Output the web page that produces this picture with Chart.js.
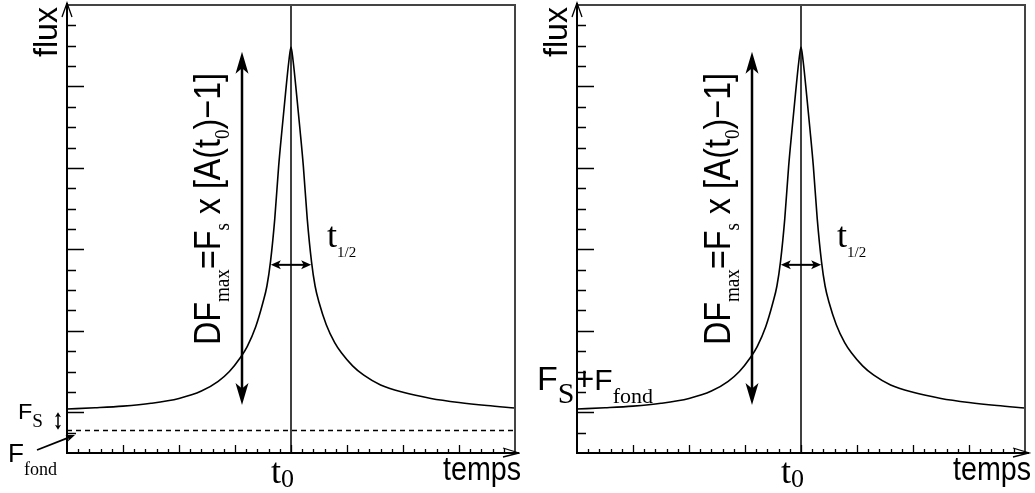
<!DOCTYPE html>
<html>
<head>
<meta charset="utf-8">
<script src="https://cdn.jsdelivr.net/npm/chart.js@4.4.1/dist/chart.umd.min.js"></script>
<style>
html, body { margin: 0; padding: 0; background: #fff; }
#wrap { position: relative; width: 1035px; height: 493px; overflow: hidden; }
canvas { position: absolute; top: 0; }
</style>
</head>
<body>
<div id="wrap">
    <canvas id="left-panel" width="520" height="493" style="left:0px"></canvas>
    <canvas id="right-panel" width="515" height="493" style="left:520px"></canvas>
</div>
<script>
// light curve (time in axis units, flux in axis units)
const timeValues = [0, 0.5, 1.0, 1.5, 2.0, 2.4, 2.7, 2.9, 3.1, 3.22, 3.37, 3.5, 3.57, 3.634, 3.71, 3.78,
    3.84, 3.9, 3.96, 4.0, 4.04, 4.1, 4.16, 4.22, 4.29, 4.366, 4.43, 4.5, 4.63, 4.78, 4.9, 5.1, 5.3,
    5.6, 6.0, 6.5, 7.0, 7.5, 8.0];
const fluxValues = [1.08, 1.11, 1.15, 1.22, 1.34, 1.52, 1.76, 2.0, 2.35, 2.62, 3.1, 3.7, 4.1, 4.7, 5.75, 7.05,
    7.95, 8.8, 9.6, 9.97, 9.6, 8.8, 7.95, 7.05, 5.75, 4.7, 4.1, 3.7, 3.15, 2.71, 2.46, 2.14, 1.91,
    1.67, 1.49, 1.34, 1.24, 1.165, 1.105];
const peakTime = 4.0;
const backgroundFlux = 0.55;
const timeRange = [0, 8];
const fluxRange = [0, 11];
const timeTickStep = 0.2;
const fluxTickStep = 0.5;

const SANS = '"Liberation Sans", Arial, sans-serif';
const SERIF = '"Liberation Serif", "Times New Roman", serif';

const curvePoints = timeValues.map((t, i) => ({ x: t, y: fluxValues[i] }));

// draw a run of text pieces [text, font, shift], optionally squeezed to a given length
function textRun(ctx, x, y, pieces, length, rotated) {
    ctx.save();
    ctx.translate(x, y);
    if (rotated) ctx.rotate(-Math.PI / 2);
    let total = 0;
    const widths = pieces.map(([text, font]) => {
        ctx.font = font;
        const w = ctx.measureText(text).width;
        total += w;
        return w;
    });
    if (length) ctx.scale(length / total, 1);
    ctx.fillStyle = "#000";
    ctx.textBaseline = "alphabetic";
    let u = 0;
    pieces.forEach(([text, font, shift], i) => {
        ctx.font = font;
        ctx.fillText(text, u, shift || 0);
        u += widths[i];
    });
    ctx.restore();
}

function arrowHead(ctx, x1, y1, x2, y2, len, width) {
    const a = Math.atan2(y2 - y1, x2 - x1);
    const c = Math.cos(a), s = Math.sin(a);
    ctx.beginPath();
    ctx.moveTo(x2, y2);
    ctx.lineTo(x2 - len * c + (width / 2) * s, y2 - len * s - (width / 2) * c);
    ctx.lineTo(x2 - len * 0.75 * c, y2 - len * 0.75 * s);
    ctx.lineTo(x2 - len * c - (width / 2) * s, y2 - len * s + (width / 2) * c);
    ctx.closePath();
    ctx.fill();
}

function arrow(ctx, x1, y1, x2, y2, len, width, lineWidth, both) {
    const a = Math.atan2(y2 - y1, x2 - x1);
    const c = Math.cos(a), s = Math.sin(a);
    ctx.lineWidth = lineWidth;
    ctx.beginPath();
    ctx.moveTo(both ? x1 + len * 0.7 * c : x1, both ? y1 + len * 0.7 * s : y1);
    ctx.lineTo(x2 - len * 0.7 * c, y2 - len * 0.7 * s);
    ctx.stroke();
    arrowHead(ctx, x1, y1, x2, y2, len, width);
    if (both) arrowHead(ctx, x2, y2, x1, y1, len, width);
}

function panelDecorations(showBackground) {
    return {
        id: "decorations",
        afterDraw(chart) {
            const { ctx, chartArea: ca, scales } = chart;
            const xs = scales.x, ys = scales.y;
            const L = ca.left, B = ca.bottom;
            ctx.save();
            ctx.strokeStyle = "#000";
            ctx.fillStyle = "#000";

            // frame
            ctx.lineWidth = 2;
            ctx.strokeStyle = "#444";
            ctx.beginPath();
            ctx.moveTo(L, ca.top); ctx.lineTo(ca.right, ca.top); ctx.lineTo(ca.right, B);
            ctx.stroke();
            ctx.strokeStyle = "#000";
            ctx.beginPath();
            ctx.moveTo(L, ca.top - 2); ctx.lineTo(L, B); ctx.lineTo(ca.right + 4, B);
            ctx.stroke();

            // axis arrows
            ctx.lineWidth = 1.3;
            ctx.beginPath();
            ctx.moveTo(L - 5, ca.top + 12); ctx.lineTo(L, ca.top - 2); ctx.lineTo(L + 5, ca.top + 12);
            ctx.moveTo(ca.right - 12, B - 5); ctx.lineTo(ca.right + 4, B); ctx.lineTo(ca.right - 12, B + 4);
            ctx.stroke();

            // ticks
            ctx.lineWidth = 1.3;
            ctx.beginPath();
            for (let v = fluxRange[0] + fluxTickStep; v < fluxRange[1] - 1e-6; v += fluxTickStep) {
                const py = Math.round(ys.getPixelForValue(v)) + 0.5;
                const odd = Math.abs(v - Math.round(v)) < 1e-6 && Math.round(v) % 2 === 1;
                ctx.moveTo(L, py); ctx.lineTo(L + (odd ? 17 : 9), py);
            }
            for (let t = timeRange[0] + timeTickStep; t < timeRange[1] - 1e-6; t += timeTickStep) {
                const px = Math.round(xs.getPixelForValue(t)) + 0.5;
                const major = Math.abs(t - Math.round(t)) < 1e-6;
                ctx.moveTo(px, B); ctx.lineTo(px, B - (major ? 8 : 4));
            }
            ctx.stroke();

            // DF arrow
            const dfx = xs.getPixelForValue(3.125);
            arrow(ctx, dfx, ys.getPixelForValue(1.18), dfx, ys.getPixelForValue(9.85), 22, 13, 2.5, true);
            // t1/2 arrow
            const hy = ys.getPixelForValue(4.62);
            arrow(ctx, xs.getPixelForValue(3.64), hy, xs.getPixelForValue(4.36), hy, 10, 9, 2, true);

            // labels
            textRun(ctx, L - 10, 57, [["flux", `34px ${SANS}`, 0]], 50, true);
            textRun(ctx, ca.right - 72, 480, [["temps", `34px ${SANS}`, 0]], 78);
            textRun(ctx, xs.getPixelForValue(peakTime) - 20, 483,
                [["t", `36px ${SERIF}`, 0], ["0", `26px ${SERIF}`, 4]]);
            textRun(ctx, xs.getPixelForValue(peakTime) + 36, 247,
                [["t", `36px ${SERIF}`, 0], ["1/2", `15px ${SERIF}`, 10]]);
            textRun(ctx, L + 153, 345, [
                ["DF", `37px ${SANS}`, 0], ["max", `22px ${SERIF}`, 9], ["=", `37px ${SANS}`, 0],
                ["F", `37px ${SANS}`, 0], ["s", `22px ${SERIF}`, 9], [" x ", `37px ${SANS}`, 0],
                ["[A(", `37px ${SANS}`, 0], ["t", `37px ${SANS}`, 0], ["0", `22px ${SERIF}`, 9],
                [")\u22121]", `37px ${SANS}`, 0],
            ], 272, true);

            if (showBackground) {
                const fy1 = ys.getPixelForValue(1.0), fy0 = ys.getPixelForValue(backgroundFlux + 0.02);
                arrow(ctx, L - 9, fy0, L - 9, fy1, 5, 6, 1.5, true);
                textRun(ctx, L - 49, 419, [["F", `22px ${SANS}`, 0], ["S", `18px ${SERIF}`, 8]], 25);
                textRun(ctx, L - 59, 462, [["F", `26px ${SANS}`, 0], ["fond", `18px ${SERIF}`, 13]], 49);
                arrow(ctx, L - 30, 450, L + 8, 435, 9, 7, 1.8, false);
            } else {
                textRun(ctx, L - 40, 390, [
                    ["F", `34px ${SANS}`, 0], ["S", `30px ${SERIF}`, 13], ["+", `34px ${SANS}`, 0],
                    ["F", `30px ${SANS}`, 0], ["fond", `22px ${SERIF}`, 13],
                ]);
            }
            ctx.restore();
        },
    };
}

function renderPanel(canvas, padding, showBackground) {
    const datasets = [
        {
            data: curvePoints,
            borderColor: "#000",
            borderWidth: 1.6,
            pointRadius: 0,
            cubicInterpolationMode: "monotone",
            fill: false,
        },
        {
            data: [{ x: peakTime, y: fluxRange[0] }, { x: peakTime, y: fluxRange[1] }],
            borderColor: "#000",
            borderWidth: 1.5,
            pointRadius: 0,
        },
    ];
    if (showBackground) {
        datasets.push({
            data: [{ x: timeRange[0], y: backgroundFlux }, { x: timeRange[1], y: backgroundFlux }],
            borderColor: "#000",
            borderWidth: 1.5,
            borderDash: [5, 4],
            pointRadius: 0,
        });
    }

    new Chart(canvas, {
        type: "line",
        data: { datasets },
        options: {
            responsive: false,
            animation: false,
            events: [],
            layout: { padding },
            plugins: { legend: { display: false }, tooltip: { enabled: false } },
            scales: {
                x: { type: "linear", min: timeRange[0], max: timeRange[1], display: false },
                y: { type: "linear", min: fluxRange[0], max: fluxRange[1], display: false },
            },
        },
        plugins: [panelDecorations(showBackground)],
    });
}

renderPanel(document.getElementById("left-panel"), { left: 67, right: 5, top: 5, bottom: 40 }, true);
renderPanel(document.getElementById("right-panel"), { left: 57, right: 10, top: 5, bottom: 40 }, false);
</script>
</body>
</html>
